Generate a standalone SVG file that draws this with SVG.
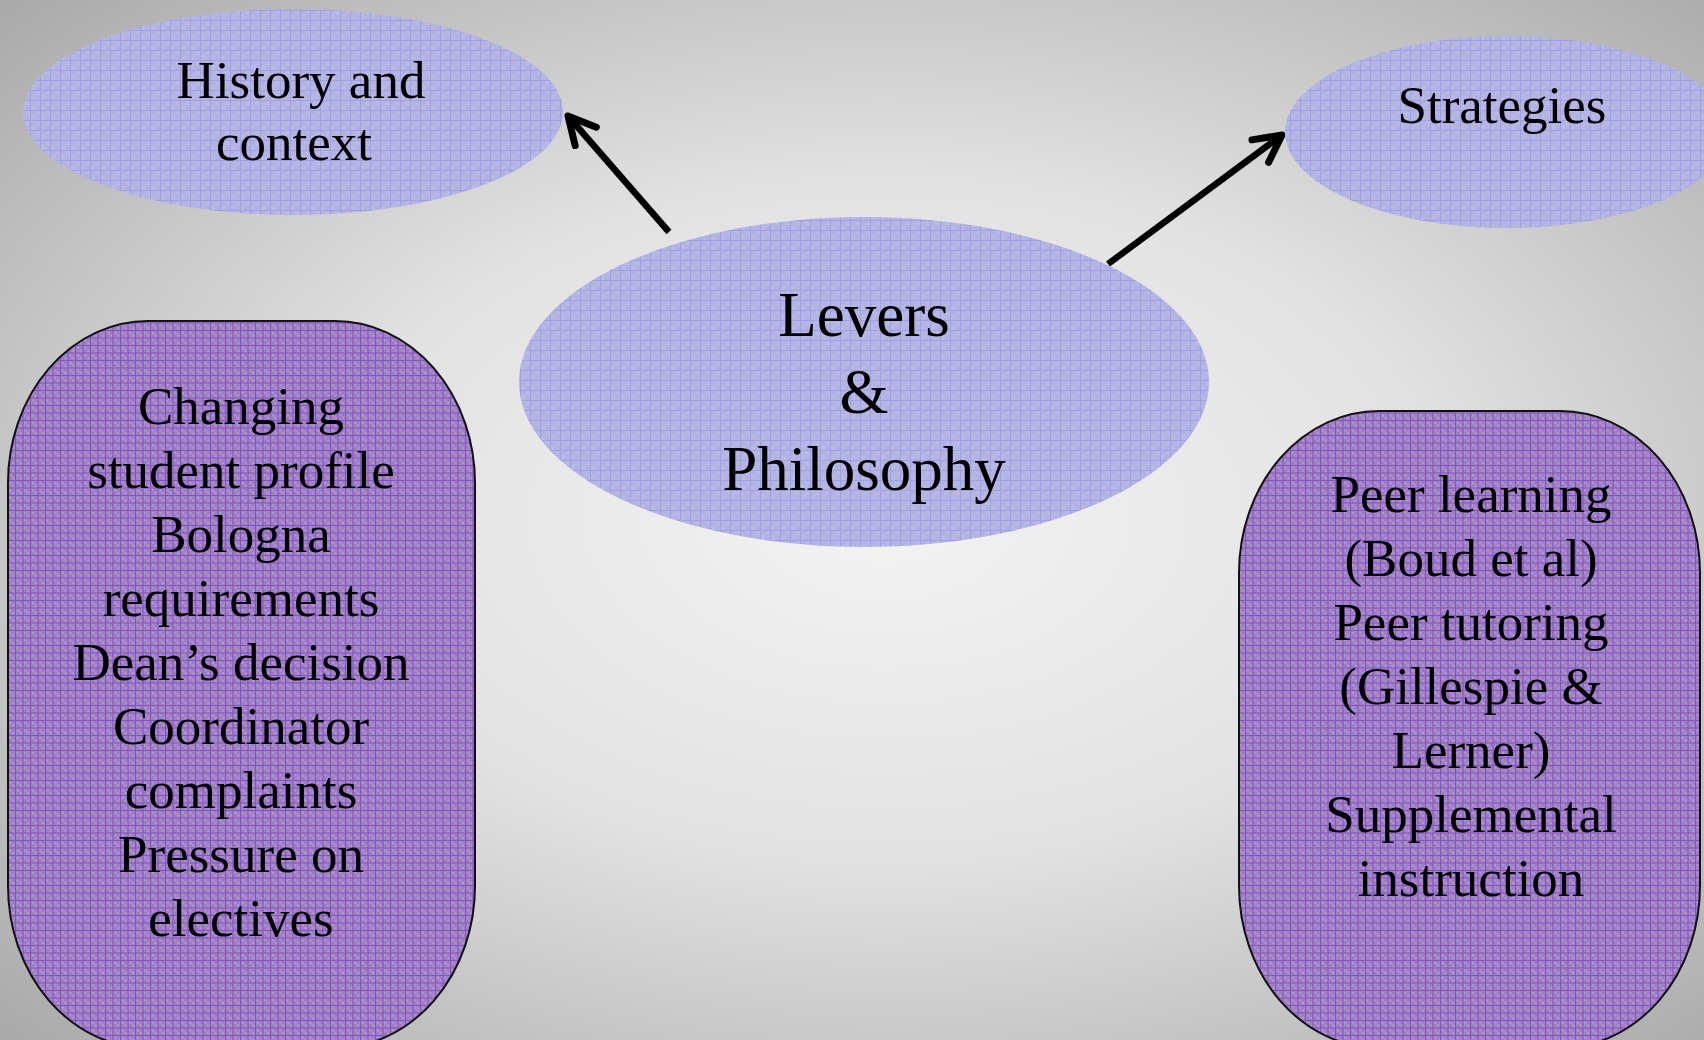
<svg xmlns="http://www.w3.org/2000/svg" width="1704" height="1040" viewBox="0 0 1704 1040">
  <defs>
    <radialGradient id="bg" cx="0.52" cy="0.5" r="0.72">
      <stop offset="0" stop-color="#f3f3f3"/>
      <stop offset="0.45" stop-color="#e2e2e2"/>
      <stop offset="1" stop-color="#a9a9a9"/>
    </radialGradient>
    <!-- small-grid fill for the ovals -->
    <pattern id="gridBlue" width="10" height="10" patternUnits="userSpaceOnUse">
      <rect width="10" height="10" fill="#b8b8e6"/>
      <rect x="0" y="0" width="5" height="5" fill="#b3b3e2"/>
      <rect x="5" y="5" width="5" height="5" fill="#b3b3e2"/>
      <path d="M0 0.5H10M0.5 0V10" stroke="#a0a0e6" stroke-width="1"/>
    </pattern>
    <!-- small-grid fill for the rounded boxes -->
    <pattern id="gridPurple" width="7.5" height="7.5" patternUnits="userSpaceOnUse">
      <rect width="7.5" height="7.5" fill="#a084c6"/>
      <rect x="2" y="2" width="1.5" height="1.5" fill="#b8a3d6"/>
      <rect x="5" y="5" width="1.5" height="1.5" fill="#b8a3d6"/>
      <rect x="5" y="2" width="1.5" height="1.5" fill="#9676c0"/>
      <rect x="2" y="5" width="1.5" height="1.5" fill="#9676c0"/>
      <path d="M0 0.5H7.5M0.5 0V7.5" stroke="#874fc2" stroke-width="1"/>
    </pattern>
    <marker id="arrowOpen" markerUnits="userSpaceOnUse" viewBox="-36 -22 42 44" refX="0" refY="0" markerWidth="42" markerHeight="44" orient="auto" overflow="visible">
      <path d="M-27 -14 L0 0 L-27 14" fill="none" stroke="#000" stroke-width="7" stroke-linecap="round" stroke-linejoin="round"/>
    </marker>
    <style>
      .txt { font-family: "Liberation Serif", "Times New Roman", serif; fill: #000; text-anchor: middle; }
      .oval { fill: url(#gridBlue); }
      .box { fill: url(#gridPurple); stroke: #111; stroke-width: 2; }
      .conn { stroke: #000; stroke-width: 6.5; fill: none; marker-end: url(#arrowOpen); }
    </style>
  </defs>

  <!-- backdrop -->
  <rect width="1704" height="1040" fill="url(#bg)"/>

  <g id="connectors">
    <line class="conn" x1="669" y1="232" x2="568" y2="116"/>
    <line class="conn" x1="1108" y1="264" x2="1282" y2="135"/>
  </g>

  <g id="node-history">
    <ellipse class="oval" cx="293" cy="112" rx="270" ry="103"/>
    <text class="txt" font-size="53" x="301" y="98">History and</text>
    <text class="txt" font-size="53" x="294" y="160">context</text>
  </g>

  <g id="node-strategies">
    <ellipse class="oval" cx="1507" cy="132" rx="222" ry="96"/>
    <text class="txt" font-size="53" x="1502" y="123">Strategies</text>
  </g>

  <g id="node-levers">
    <ellipse class="oval" cx="864" cy="382" rx="345" ry="165"/>
    <text class="txt" font-size="63" x="864" y="336">Levers</text>
    <text class="txt" font-size="63" x="864" y="413">&amp;</text>
    <text class="txt" font-size="63" x="864" y="490">Philosophy</text>
  </g>

  <g id="node-drivers">
    <rect class="box" x="8" y="321" width="467" height="727" rx="140" ry="162"/>
    <text class="txt" font-size="53"><tspan x="241" y="424">Changing</tspan><tspan
      x="241" y="488">student profile</tspan><tspan
      x="241" y="552">Bologna</tspan><tspan
      x="241" y="616">requirements</tspan><tspan
      x="241" y="680">Dean’s decision</tspan><tspan
      x="241" y="744">Coordinator</tspan><tspan
      x="241" y="808">complaints</tspan><tspan
      x="241" y="872">Pressure on</tspan><tspan
      x="241" y="936">electives</tspan></text>
  </g>

  <g id="node-approaches">
    <rect class="box" x="1239" y="411" width="461" height="637" rx="140" ry="162"/>
    <text class="txt" font-size="53"><tspan x="1471" y="512">Peer learning</tspan><tspan
      x="1471" y="576">(Boud et al)</tspan><tspan
      x="1471" y="640">Peer tutoring</tspan><tspan
      x="1471" y="704">(Gillespie &amp;</tspan><tspan
      x="1471" y="768">Lerner)</tspan><tspan
      x="1471" y="832">Supplemental</tspan><tspan
      x="1471" y="896">instruction</tspan></text>
  </g>
</svg>
